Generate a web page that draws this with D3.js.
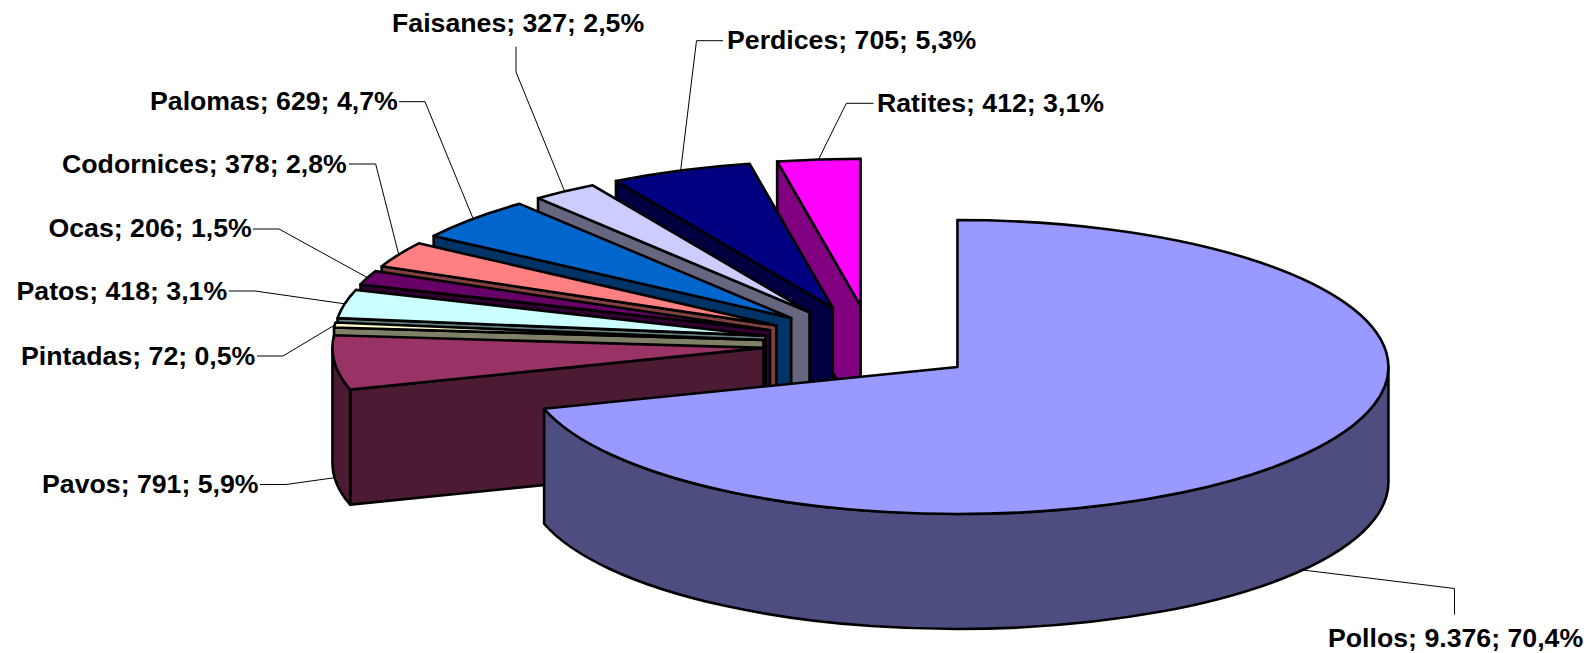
<!DOCTYPE html>
<html><head><meta charset="utf-8">
<script src="https://cdn.jsdelivr.net/npm/d3@7/dist/d3.min.js"></script>
<style>html,body{margin:0;padding:0;background:#fff;overflow:hidden}svg{display:block}
text{font-family:"Liberation Sans",Arial,sans-serif;font-weight:bold;font-size:26.7px;fill:#000}</style>
</head><body><svg id="c" width="1592" height="653"></svg>
<script>
const categories=["Pollos","Pavos","Pintadas","Patos","Ocas","Codornices","Palomas","Faisanes","Perdices","Ratites"];
const values=[9376,791,72,418,206,378,629,327,705,412];
const colours=["#9999FF","#993366","#FFFFCC","#CCFFFF","#660066","#FF8080","#0066CC","#CCCCFF","#000080","#FF00FF"];
// label layout: leader elbow, leader end, text position (baseline)
const elbows=[[1454.5,588.5],[286,484.5],[283,356],[255,291],[279,229],[375.7,164],[425,101.7],[516,72],[696.5,40.7],[846.3,103.3]];
const labelEnds=[[1454.5,614.5],[260,484.5],[257,356],[228.7,291],[253,229],[349,164],[399,101.7],[516,46.7],[723,40.7],[873.5,103.3]];
const labelXY=[[1328,646.5],[42,492.7],[21,364.7],[16.5,300],[48.5,236.7],[62,172.7],[150,110],[392,31.7],[727,49],[877,111.7]];

const CX=870.9, CY=344, RX=431, RY=147, DEPTH=115, EXPLODE_X=108, EXPLODE_Y=38.5;
const ux=d3.scaleLinear().domain([-1,1]).range([-RX,RX]);
const uy=d3.scaleLinear().domain([-1,1]).range([-RY,RY]);
const total=d3.sum(values);
const pie=d3.pie().sort(null).value(d=>d)(values);
const fmtN=d3.formatLocale({decimal:",",thousands:".",grouping:[3],currency:["",""]}).format(",d");
const fmtP=v=>(v/total*100).toFixed(1).replace(".",",")+"%";
const svg=d3.select("#c");
const slices=pie.map((p,i)=>{
  const mid=(p.startAngle+p.endAngle)/2;
  return {i,a0:p.startAngle,a1:p.endAngle,mid,cx:CX+EXPLODE_X*Math.sin(mid),cy:CY-EXPLODE_Y*Math.cos(mid)};
});
const pt=(s,a,d=0)=>[s.cx+ux(Math.sin(a)),s.cy+uy(-Math.cos(a))+d];
const wallPath=(s,a0,a1)=>{
  const p0=pt(s,a0),p1=pt(s,a1),p1b=pt(s,a1,DEPTH),p0b=pt(s,a0,DEPTH);
  return `M${p0}A${RX},${RY} 0 0 1 ${p1}L${p1b}A${RX},${RY} 0 0 0 ${p0b}Z`;
};
const radialPath=(s,a)=>{
  const o=pt(s,a),ob=pt(s,a,DEPTH),c=[s.cx,s.cy],cb=[s.cx,s.cy+DEPTH];
  return `M${c}L${o}L${ob}L${cb}Z`;
};
const topPath=s=>{
  const p0=pt(s,s.a0),p1=pt(s,s.a1),large=(s.a1-s.a0)>Math.PI?1:0;
  return `M${s.cx},${s.cy}L${p0}A${RX},${RY} 0 ${large} 1 ${p1}Z`;
};
const g=svg.append("g").attr("stroke","#000").attr("stroke-width",2.6).attr("stroke-linejoin","round");
const H=Math.PI/2,PI=Math.PI;
// painter's order: back slices first, largest slice last
slices.slice().reverse().forEach(s=>{
  const c=d3.rgb(colours[s.i]);
  const side=d3.rgb(c.r/2,c.g/2,c.b/2).formatHex();
  if(s.i>0&&s.a0>=PI) g.append("path").attr("d",radialPath(s,s.a0)).attr("fill",side);
  if(Math.abs(s.a1-2*PI)<1e-6) g.append("path").attr("d",radialPath(s,s.a1)).attr("fill",side);
  const w0=Math.max(s.a0,H),w1=Math.min(s.a1,3*H);
  if(w1>w0) g.append("path").attr("d",wallPath(s,w0,w1)).attr("fill",side);
  g.append("path").attr("d",topPath(s)).attr("fill",colours[s.i]);
});
// leaders + labels
const leader=d3.line();
slices.forEach(s=>{
  const inFront=s.mid<3*H && s.mid>H;
  const start=pt(s,s.mid,inFront?DEPTH:0);
  svg.append("path").attr("d",leader([start,elbows[s.i],labelEnds[s.i]]))
    .attr("fill","none").attr("stroke","#000").attr("stroke-width",1);
  svg.append("text").attr("x",labelXY[s.i][0]).attr("y",labelXY[s.i][1])
    .text(`${categories[s.i]}; ${fmtN(values[s.i])}; ${fmtP(values[s.i])}`);
});
</script></body></html>
